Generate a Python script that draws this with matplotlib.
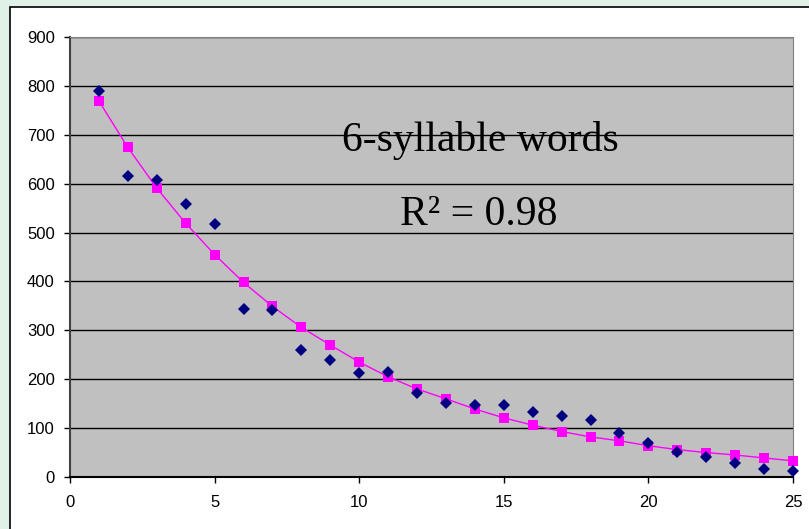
import matplotlib.pyplot as plt
from matplotlib.patches import Rectangle

# word frequency by rank, 6-syllable words
rank = list(range(1, 26))
observed = [790, 615, 607, 558, 517, 343, 342, 260, 239, 213, 215, 172, 151,
            147, 147, 133, 124, 116, 91, 70, 51, 40, 28, 17, 12]
fitted = [769, 674, 591, 519, 455, 398, 349, 306, 270, 235, 205, 180, 160,
          139, 121, 106, 93, 82, 74, 64, 56, 50, 45, 39, 33]
x_ticks = [0, 5, 10, 15, 20, 25]
y_ticks = list(range(0, 1000, 100))

W, H = 809, 529
fig = plt.figure(figsize=(W / 100, H / 100), dpi=100, facecolor='#e0f1e7')
# white chart box with black border, kept behind the axes
fig.patches.append(Rectangle((10 / W, -0.05), 1.0, 1 - 7 / H + 0.05,
                             transform=fig.transFigure, facecolor='white',
                             edgecolor='black', linewidth=1.2, zorder=-10))

ax = fig.add_axes([70 / W, 52 / H, 723 / W, 440 / H])
ax.set_facecolor('#c0c0c0')
ax.set_xlim(0, 25)
ax.set_ylim(0, 900)
ax.set_xticks(x_ticks)
ax.set_yticks(y_ticks)
ax.grid(axis='y', color='black', linewidth=1)
ax.set_axisbelow(True)

for side in ['top', 'right']:
    ax.spines[side].set_color('#808080')
ax.spines['left'].set_color('#404040')
ax.spines['bottom'].set_color('black')
ax.spines['left'].set_linewidth(1.5)
ax.spines['bottom'].set_linewidth(1.5)
ax.tick_params(direction='out', length=4, width=1, labelsize=12)
ax.tick_params(axis='y', pad=7)
ax.tick_params(axis='x', pad=9)
for lab in ax.get_xticklabels() + ax.get_yticklabels():
    lab.set_fontfamily('Liberation Sans')

ax.plot(rank, fitted, color='#ff00ff', linewidth=1, marker='s',
        markersize=7, markeredgewidth=0, clip_on=False, zorder=3)
ax.plot(rank, observed, linestyle='none', color='#000080', marker='D',
        markersize=6.5, markeredgewidth=0, clip_on=False, zorder=4)

fig.text(480 / W, 1 - 140 / H, '6-syllable words', ha='center', va='center',
         fontsize=30, family='Liberation Serif')
fig.text(479 / W, 1 - 215 / H, 'R² = 0.98', ha='center', va='center',
         fontsize=30, family='Liberation Serif')

fig.savefig('out.png', dpi=100, facecolor=fig.get_facecolor())
